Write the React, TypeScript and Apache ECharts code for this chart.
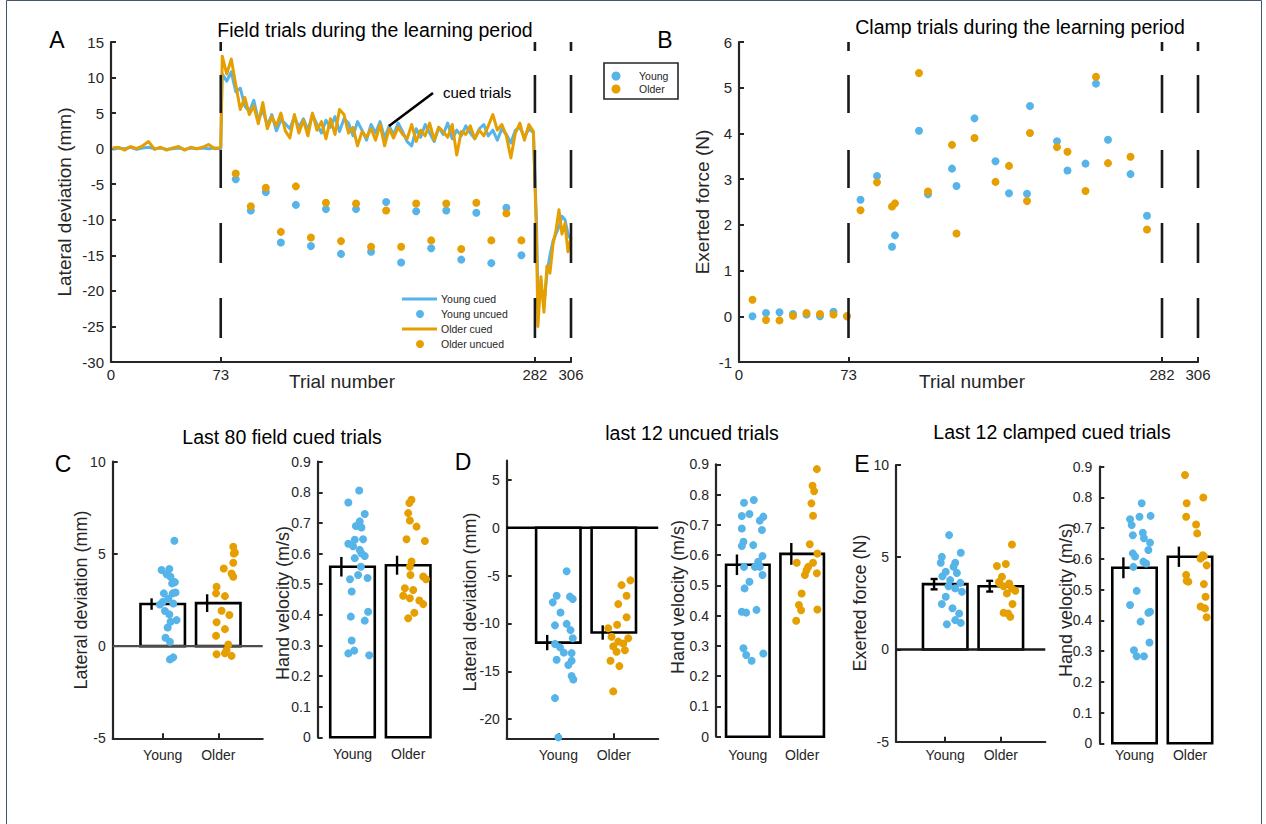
import React, { useEffect, useRef } from "react";
import * as echarts from "echarts";

// ---------------- Panel A : field trials ----------------
const cuedTrials = [
  1, 5, 9, 13, 17, 21, 25, 29, 33, 37, 41, 45, 49, 53, 57, 61, 65, 69, 73,
  74, 77, 80, 83, 86, 89, 92, 95, 98, 101, 104, 107, 110, 113, 116, 119, 122, 125, 128, 131,
  134, 137, 140, 143, 146, 149, 152, 155, 158, 161, 164, 167, 170, 173, 176, 179, 182, 185, 188, 191,
  194, 197, 200, 203, 206, 209, 212, 215, 218, 221, 224, 227, 230, 233, 236, 239, 242, 245, 248, 251,
  254, 257, 260, 263, 266, 269, 272, 275, 278, 281,
  283, 284, 286, 288, 290, 292, 294, 296, 298, 300, 302, 304, 306,
];
const youngCued = [
  -0.1, 0.1, 0.0, 0.2, -0.1, 0.1, 0.2, 0.0, 0.1, -0.1, 0.0, 0.1, -0.1, 0.1, 0.0, 0.1, 0.0, 0.1, 0.0,
  10.5, 9.5, 10.8, 8.0, 8.5, 6.0, 5.2, 6.8, 4.0, 5.5, 3.2, 4.8, 2.5, 4.0, 3.5, 2.8, 4.5, 3.0, 4.2, 2.6,
  4.8, 3.4, 2.2, 4.0, 3.0, 4.5, 2.4, 4.2, 3.6, 1.8, 3.8, 2.6, 1.2, 3.4, 2.2, 3.8, 1.5, 3.2, 2.0, 3.6,
  2.4, 1.0, 0.4, 2.8, 1.6, 3.4, 2.2, 1.0, 3.0, 2.0, 3.6, 1.4, 2.6, 1.8, 3.2, 2.2, 1.4, 2.8, 3.4, 1.8,
  2.6, 1.2, 2.8, 2.0, 0.8, 2.6, 3.0, 1.6, 2.8, 2.2,
  -10, -21, -19, -22, -17.5, -15, -13, -12, -11, -9.5, -10, -12, -12.8,
];
const olderCued = [
  0.1, 0.2, -0.2, 0.3, 0.0, 0.4, 1.0, -0.1, 0.2, -0.2, 0.1, 0.3, -0.2, 0.2, 0.0, 0.2, 0.6, 0.0, 0.2,
  13.0, 10.5, 12.6, 9.0, 5.5, 7.2, 4.8, 6.0, 3.5, 6.5, 2.8, 4.5, 3.2, 5.0, 2.5, 1.5, 4.8, 2.2, 4.0, 1.8,
  5.0, 2.6, 3.8, 1.4, 4.2, 2.0, 5.5, 4.8, 2.2, 3.0, 0.4, 2.4, 1.6, 2.8, 1.2, 3.4, 0.4, 2.8, 1.5, 3.0,
  2.0, 1.4, 3.4, 1.0, 2.6, 1.8, 3.6, 1.2, 3.0, 2.4, 1.6, 3.4, -0.9, 2.4, 2.0, 3.2, 1.4, 2.6, 1.8, 3.2,
  4.8, 2.6, 3.4, 1.8, -1.3, 2.2, 3.6, 1.2, 3.4, 2.4,
  -12, -25, -18, -23, -16.5, -17.5, -13.5, -11.5, -8.6, -12, -10.5, -14.5, -12.5,
];
const uncuedTrials = [83, 93, 103, 113, 123, 133, 143, 153, 163, 173, 183, 193, 203, 213, 223, 233, 243, 253, 263, 273];
const youngUncued = [-4.3, -8.7, -6.1, -13.2, -7.9, -13.7, -8.5, -14.8, -8.5, -14.5, -7.5, -16.0, -8.8, -14.0, -8.7, -15.6, -9.0, -16.1, -8.3, -15.0];
const olderUncued = [-3.5, -8.1, -5.5, -11.7, -5.3, -12.5, -7.6, -13.0, -7.7, -13.8, -8.7, -13.8, -7.7, -12.9, -7.7, -14.1, -7.6, -12.9, -9.1, -12.9];
const trialTicks = [0, 73, 282, 306];
const phaseBounds = [73, 282, 306];

// ---------------- Panel B : clamp trials ----------------
const clampTrials = [9, 18, 27, 36, 45, 54, 63, 72, 81, 92, 102, 104, 120, 126, 142, 145, 157, 171, 180, 192, 194, 212, 219, 231, 238, 246, 261, 272];
const youngClamp = [0.0, 0.07, 0.09, 0.05, 0.04, 0.0, 0.1, 0.0, 2.55, 3.07, 1.52, 1.77, 4.06, 2.67, 3.23, 2.85, 4.33, 3.39, 2.69, 2.68, 4.6, 3.83, 3.19, 3.34, 5.09, 3.86, 3.11, 2.2];
const olderClamp = [0.36, -0.08, -0.09, 0.01, 0.07, 0.05, 0.04, 0.0, 2.32, 2.93, 2.4, 2.47, 5.32, 2.73, 3.75, 1.81, 3.9, 2.94, 3.29, 2.52, 4.01, 3.7, 3.6, 2.74, 5.24, 3.35, 3.49, 1.9];

// ---------------- Bottom panels ----------------
const groups = ["Young", "Older"];
const groupPos = [1, 2];

const cDevMean = [2.28, 2.33];
const cDevSem = [0.31, 0.48];
const cDevYoungX = [1.21, 0.98, 1.12, 1.07, 1.14, 1.22, 1.02, 1.18, 1.23, 1.1, 1.19, 0.95, 1.04, 1.12, 1.25, 1.14, 1.09, 1.05, 1.13, 1.19, 1.13, 1.0, 1.17];
const cDevYoungY = [5.71, 4.13, 4.18, 3.9, 3.76, 3.47, 2.86, 2.86, 2.91, 2.58, 2.31, 2.26, 1.9, 1.72, 1.41, 1.32, 1.01, 0.45, 0.23, -0.61, -0.72, 2.4, 3.4];
const cDevOlderX = [2.27, 2.3, 2.28, 2.1, 2.27, 2.24, 2.27, 1.97, 1.96, 2.12, 2.06, 2.2, 1.97, 2.12, 1.96, 2.18, 1.97, 2.12, 2.24, 2.15];
const cDevOlderY = [5.39, 5.08, 5.02, 4.21, 4.52, 3.94, 3.76, 3.22, 2.86, 2.71, 1.92, 1.69, 1.29, 0.92, 0.56, 0.09, -0.44, -0.39, -0.53, -0.22];

const cVelMean = [0.557, 0.562];
const cVelSem = [0.032, 0.031];
const cVelYoungX = [1.12, 0.925, 1.22, 1.13, 1.06, 1.16, 1.04, 1.19, 0.925, 1.01, 1.13, 1.22, 1.04, 1.15, 1.1, 0.955, 1.27, 0.985, 1.28, 0.97, 1.22, 0.985, 1.03, 0.925, 1.3, 1.16];
const cVelYoungY = [0.806, 0.767, 0.729, 0.705, 0.69, 0.685, 0.645, 0.647, 0.632, 0.624, 0.612, 0.592, 0.585, 0.557, 0.53, 0.516, 0.52, 0.476, 0.41, 0.394, 0.381, 0.316, 0.283, 0.274, 0.268, 0.601];
const cVelOlderX = [2.06, 2.02, 2.0, 2.03, 2.15, 1.97, 2.3, 2.06, 2.03, 2.04, 2.27, 2.32, 1.94, 2.09, 1.91, 2.03, 2.27, 2.11, 2.0, 2.2];
const cVelOlderY = [0.776, 0.765, 0.732, 0.708, 0.688, 0.647, 0.641, 0.574, 0.557, 0.53, 0.525, 0.516, 0.487, 0.481, 0.462, 0.454, 0.435, 0.407, 0.389, 0.447];

const dDevMean = [-12.0, -10.95];
const dDevSem = [0.8, 0.75];
const dDevYoungX = [1.15, 0.97, 0.9, 1.21, 1.26, 1.04, 0.94, 1.15, 1.22, 1.26, 0.94, 1.03, 1.1, 1.24, 0.97, 1.24, 1.18, 1.24, 1.27, 0.94, 1.0];
const dDevYoungY = [-4.55, -7.1, -7.8, -7.2, -7.45, -8.85, -10.2, -10.05, -10.7, -11.55, -12.14, -12.5, -13.05, -13.1, -13.8, -13.9, -14.35, -15.5, -15.85, -17.8, -21.9];
const dDevOlderX = [2.3, 2.14, 2.23, 2.08, 2.23, 2.06, 1.9, 1.96, 2.26, 2.08, 2.17, 1.99, 2.2, 2.05, 1.94, 2.1, 1.99];
const dDevOlderY = [-5.5, -6.0, -7.1, -7.98, -9.35, -10.14, -10.5, -11.4, -11.55, -11.9, -12.1, -12.4, -12.8, -12.95, -13.9, -14.46, -17.1];

const dVelMean = [0.568, 0.604];
const dVelSem = [0.034, 0.036];
const dVelYoungX = [1.11, 0.93, 1.03, 0.89, 1.285, 1.22, 0.89, 1.26, 0.92, 0.89, 1.1, 1.27, 1.19, 1.13, 0.93, 1.27, 1.03, 0.94, 0.89, 0.97, 1.16, 0.92, 0.97, 1.07, 1.285, 1.22];
const dVelYoungY = [0.782, 0.773, 0.736, 0.729, 0.727, 0.714, 0.688, 0.683, 0.644, 0.63, 0.633, 0.597, 0.578, 0.561, 0.561, 0.534, 0.512, 0.49, 0.413, 0.41, 0.419, 0.292, 0.27, 0.251, 0.275, 0.561];
const dVelOlderX = [2.27, 2.19, 2.22, 2.17, 2.2, 2.14, 2.28, 1.9, 2.2, 2.11, 2.05, 2.27, 1.99, 1.94, 1.98, 2.28, 1.89, 2.08];
const dVelOlderY = [0.884, 0.829, 0.811, 0.771, 0.73, 0.636, 0.605, 0.575, 0.575, 0.561, 0.534, 0.54, 0.473, 0.435, 0.418, 0.42, 0.383, 0.55];

const eForceMean = [3.54, 3.43];
const eForceSem = [0.28, 0.29];
const eForceYoungX = [1.07, 1.28, 0.94, 0.92, 1.18, 1.15, 1.01, 1.21, 0.95, 1.09, 1.27, 1.06, 1.18, 1.3, 1.01, 0.94, 1.13, 1.25, 1.18, 1.28, 1.03];
const eForceYoungY = [6.2, 5.24, 5.02, 4.7, 4.7, 4.48, 4.21, 4.15, 3.97, 3.76, 3.61, 3.43, 3.31, 3.13, 2.86, 2.46, 2.23, 1.95, 1.59, 1.44, 1.37];
const eForceOlderX = [2.2, 1.93, 2.09, 2.02, 1.97, 2.15, 2.05, 2.2, 2.26, 2.11, 2.21, 2.05, 2.13, 2.17, 1.97];
const eForceOlderY = [5.69, 4.52, 4.63, 3.94, 3.67, 3.58, 3.43, 3.31, 3.18, 3.04, 2.46, 1.99, 1.95, 1.77, 3.6];

const eVelMean = [0.571, 0.607];
const eVelSem = [0.034, 0.033];
const eVelYoungX = [1.13, 1.09, 1.29, 0.92, 0.95, 0.97, 1.15, 1.17, 1.28, 1.25, 0.97, 1.01, 1.16, 1.21, 0.98, 1.04, 0.92, 1.28, 1.25, 1.11, 1.27, 0.99, 1.04, 1.17];
const eVelYoungY = [0.781, 0.737, 0.74, 0.729, 0.71, 0.677, 0.685, 0.667, 0.653, 0.629, 0.618, 0.608, 0.591, 0.585, 0.574, 0.496, 0.45, 0.428, 0.425, 0.396, 0.328, 0.303, 0.283, 0.283];
const eVelOlderX = [1.91, 1.94, 2.24, 1.93, 2.11, 2.13, 2.25, 2.19, 2.3, 1.93, 1.97, 1.94, 2.25, 2.28, 2.19, 2.27, 2.3, 2.23];
const eVelOlderY = [0.873, 0.781, 0.8, 0.737, 0.712, 0.683, 0.609, 0.601, 0.579, 0.548, 0.526, 0.529, 0.518, 0.477, 0.445, 0.439, 0.41, 0.612];

const velTicks = [0, 0.1, 0.2, 0.3, 0.4, 0.5, 0.6, 0.7, 0.8, 0.9];
const dDevTicks = [-20, -15, -10, -5, 0, 5];

// ---------------- styling ----------------
const BLUE = "#56B4E9";
const ORANGE = "#E69F00";
const AX = "#262626";
const FONT = "'Liberation Sans', Arial, Helvetica, sans-serif";
const DASH = [9, 24, 38, 37, 38, 35, 40, 35, 40, 30];
const TITLE = 19.5;

const zip = (xs: number[], ys: number[]) => xs.map((x, i) => [x, ys[i]]);

function yAxisCfg(gi: number, min: number, max: number, o: any = {}) {
  const label: any = { color: AX, fontSize: o.fs || 14, fontFamily: FONT, margin: 7 };
  const tick: any = { show: true, inside: true, length: 5, lineStyle: { color: AX, width: 2 } };
  if (o.ticks) {
    label.customValues = o.ticks;
    tick.customValues = o.ticks;
  }
  if (o.fmt) label.formatter = o.fmt;
  const a: any = {
    type: "value", gridIndex: gi, min, max,
    axisLine: { show: true, onZero: false, lineStyle: { color: AX, width: 2.2 } },
    axisTick: tick, axisLabel: label, splitLine: { show: false },
  };
  if (o.interval) a.interval = o.interval;
  return a;
}

function xAxisCfg(gi: number, min: number, max: number, o: any = {}) {
  const ticks = o.ticks || groupPos;
  return {
    type: "value", gridIndex: gi, min, max,
    axisLine: { show: o.line !== false, onZero: false, lineStyle: { color: AX, width: 2.2 } },
    axisTick: { show: o.line !== false, inside: true, length: 5, customValues: ticks, lineStyle: { color: AX, width: 2 } },
    axisLabel: {
      color: AX, fontSize: o.fs || 14, fontFamily: FONT, margin: o.margin || 8,
      customValues: ticks,
      formatter: o.fmt || ((v: number) => groups[Math.round(v) - 1] || ""),
    },
    splitLine: { show: false },
  };
}

const velFmt = (v: number) => (Math.abs(v) < 1e-9 ? "0" : v.toFixed(1));

function barPanel(gi: number, means: number[], sems: number[], yx: number[], yy: number[], ox: number[], oy: number[], o: any = {}) {
  const s: any[] = [];
  s.push({
    type: "custom", xAxisIndex: gi, yAxisIndex: gi, z: 2, silent: true,
    data: groupPos.map((x, i) => [x, means[i]]),
    renderItem: (_p: any, api: any) => {
      const x = api.value(0), v = api.value(1);
      const a = api.coord([x - 0.4, 0]);
      const b = api.coord([x + 0.4, v]);
      return {
        type: "rect",
        shape: { x: a[0], y: Math.min(a[1], b[1]), width: b[0] - a[0], height: Math.abs(b[1] - a[1]) },
        style: { fill: "#ffffff", stroke: "#000000", lineWidth: 2.6 },
      };
    },
  });
  if (o.zero) {
    s.push({
      type: "line", xAxisIndex: gi, yAxisIndex: gi, z: 3, symbol: "none", silent: true,
      data: [[o.xmin, 0], [o.xmax, 0]],
      lineStyle: { color: o.zero, width: 2.4 },
    });
  }
  s.push({
    type: "custom", xAxisIndex: gi, yAxisIndex: gi, z: 4, silent: true,
    data: groupPos.map((x, i) => [x, means[i], sems[i]]),
    renderItem: (_p: any, api: any) => {
      const x = api.value(0) - 0.2, m = api.value(1), se = api.value(2);
      const t = api.coord([x, m + se]);
      const b = api.coord([x, m - se]);
      const st = { stroke: "#000000", lineWidth: 2.4 };
      const ch: any[] = [{ type: "line", shape: { x1: t[0], y1: t[1], x2: b[0], y2: b[1] }, style: st }];
      if (o.caps) {
        ch.push({ type: "line", shape: { x1: t[0] - 3.5, y1: t[1], x2: t[0] + 3.5, y2: t[1] }, style: st });
        ch.push({ type: "line", shape: { x1: b[0] - 3.5, y1: b[1], x2: b[0] + 3.5, y2: b[1] }, style: st });
      }
      return { type: "group", children: ch };
    },
  });
  s.push({
    type: "scatter", xAxisIndex: gi, yAxisIndex: gi, z: 5, symbolSize: 8, silent: true,
    data: zip(yx, yy), itemStyle: { color: BLUE, opacity: 1 },
  });
  s.push({
    type: "scatter", xAxisIndex: gi, yAxisIndex: gi, z: 5, symbolSize: 8, silent: true,
    data: zip(ox, oy), itemStyle: { color: ORANGE, opacity: 1 },
  });
  return s;
}

function txt(text: string, x: number, y: number, size: number, o: any = {}) {
  return {
    type: "text", x, y, rotation: o.rot || 0, silent: true, z: 100,
    style: {
      text, font: `${size}px ${FONT}`, fill: o.color || "#000000",
      textAlign: o.align || "center", align: o.align || "center",
      textVerticalAlign: "middle", verticalAlign: "middle",
    },
  };
}

function buildOption() {
  const grid = [
    { left: 111, top: 42, width: 460, height: 320 },
    { left: 739, top: 42, width: 459, height: 320 },
    { left: 112.7, top: 461.7, width: 150, height: 276.6 },
    { left: 317.7, top: 461.7, width: 123.9, height: 275.6 },
    { left: 506.7, top: 460.7, width: 151.5, height: 277.6 },
    { left: 716, top: 464.3, width: 118.8, height: 272.4 },
    { left: 896, top: 465, width: 149.3, height: 276.7 },
    { left: 1099.3, top: 466.7, width: 124, height: 276.6 },
  ];
  const trialFmt = (v: number) => String(Math.round(v));
  const xAxis = [
    xAxisCfg(0, 0, 306, { ticks: trialTicks, fmt: trialFmt, fs: 15, margin: 5 }),
    xAxisCfg(1, 0, 306, { ticks: trialTicks, fmt: trialFmt, fs: 15, margin: 5 }),
    xAxisCfg(2, 0.1, 2.8, { margin: 10 }),
    xAxisCfg(3, 0.375, 2.6, { line: false, margin: 10 }),
    xAxisCfg(4, 0.07, 2.8, { margin: 10 }),
    xAxisCfg(5, 0.415, 2.6, { line: false, margin: 11 }),
    xAxisCfg(6, 0.115, 2.8, { margin: 6 }),
    xAxisCfg(7, 0.366, 2.6, { line: false, margin: 5 }),
  ];
  const yAxis = [
    yAxisCfg(0, -30, 15, { interval: 5, fs: 15 }),
    yAxisCfg(1, -1, 6, { interval: 1, fs: 15 }),
    yAxisCfg(2, -5, 10, { interval: 5 }),
    yAxisCfg(3, 0, 0.9, { ticks: velTicks, fmt: velFmt }),
    yAxisCfg(4, -22, 7, { ticks: dDevTicks }),
    yAxisCfg(5, 0, 0.9, { ticks: velTicks, fmt: velFmt }),
    yAxisCfg(6, -5, 10, { interval: 5 }),
    yAxisCfg(7, 0, 0.9, { ticks: velTicks, fmt: velFmt }),
  ];

  const series: any[] = [
    {
      type: "line", xAxisIndex: 0, yAxisIndex: 0, z: 2, symbol: "none", silent: true,
      data: zip(cuedTrials, youngCued), lineStyle: { color: BLUE, width: 3, join: "round" },
    },
    {
      type: "line", xAxisIndex: 0, yAxisIndex: 0, z: 3, symbol: "none", silent: true,
      data: zip(cuedTrials, olderCued), lineStyle: { color: ORANGE, width: 3, join: "round" },
    },
    {
      type: "scatter", xAxisIndex: 0, yAxisIndex: 0, z: 3, symbolSize: 8, silent: true,
      data: zip(uncuedTrials, youngUncued), itemStyle: { color: BLUE, opacity: 1 },
    },
    {
      type: "scatter", xAxisIndex: 0, yAxisIndex: 0, z: 3, symbolSize: 8, silent: true,
      data: zip(uncuedTrials, olderUncued), itemStyle: { color: ORANGE, opacity: 1 },
    },
    {
      type: "scatter", xAxisIndex: 1, yAxisIndex: 1, z: 3, symbolSize: 8, silent: true,
      data: zip(clampTrials, youngClamp), itemStyle: { color: BLUE, opacity: 1 },
    },
    {
      type: "scatter", xAxisIndex: 1, yAxisIndex: 1, z: 4, symbolSize: 8, silent: true,
      data: zip(clampTrials, olderClamp), itemStyle: { color: ORANGE, opacity: 1 },
    },
  ];
  const ranges = [[-30, 15], [-1, 6]];
  [0, 1].forEach((gi) => {
    phaseBounds.forEach((b) => {
      series.push({
        type: "line", xAxisIndex: gi, yAxisIndex: gi, z: 6, symbol: "none", silent: true, clip: false,
        data: [[b, ranges[gi][1]], [b, ranges[gi][0]]],
        lineStyle: { color: "#1a1a1a", width: 2.6, type: DASH, cap: "butt" },
      });
    });
  });

  series.push(...barPanel(2, cDevMean, cDevSem, cDevYoungX, cDevYoungY, cDevOlderX, cDevOlderY, { zero: "#4d4d4d", xmin: 0.1, xmax: 2.8 }));
  series.push(...barPanel(3, cVelMean, cVelSem, cVelYoungX, cVelYoungY, cVelOlderX, cVelOlderY));
  series.push(...barPanel(4, dDevMean, dDevSem, dDevYoungX, dDevYoungY, dDevOlderX, dDevOlderY, { zero: "#000000", xmin: 0.07, xmax: 2.8 }));
  series.push(...barPanel(5, dVelMean, dVelSem, dVelYoungX, dVelYoungY, dVelOlderX, dVelOlderY));
  series.push(...barPanel(6, eForceMean, eForceSem, eForceYoungX, eForceYoungY, eForceOlderX, eForceOlderY, { zero: "#1a1a1a", xmin: 0.115, xmax: 2.8, caps: true }));
  series.push(...barPanel(7, eVelMean, eVelSem, eVelYoungX, eVelYoungY, eVelOlderX, eVelOlderY));

  const R = Math.PI / 2;
  const graphic: any[] = [
    { type: "rect", silent: true, z: 0, shape: { x: 6.5, y: 0.5, width: 1255, height: 830 }, style: { fill: "none", stroke: "#44546a", lineWidth: 1 } },
    // panel letters
    txt("A", 57, 40, 23), txt("B", 665, 40, 23), txt("C", 63, 464, 23), txt("D", 463, 462, 23), txt("E", 862, 464, 23),
    // titles
    txt("Field trials during the learning period", 375, 30, TITLE),
    txt("Clamp trials during the learning period", 1020, 27, TITLE),
    txt("Last 80 field cued trials", 282, 437, TITLE),
    txt("last 12 uncued trials", 692, 433, TITLE),
    txt("Last 12 clamped cued trials", 1052, 432, TITLE),
    // axis names
    txt("Lateral deviation (mm)", 64, 202, 19, { rot: R, color: AX }),
    txt("Trial number", 342, 381, 19, { color: AX }),
    txt("Exerted force (N)", 702, 202, 19, { rot: R, color: AX }),
    txt("Trial number", 972, 381, 19, { color: AX }),
    txt("Lateral deviation (mm)", 81, 600, 18, { rot: R, color: AX }),
    txt("Hand velocity (m/s)", 283, 603, 18, { rot: R, color: AX }),
    txt("Lateral deviation (mm)", 470, 602, 18, { rot: R, color: AX }),
    txt("Hand velocity (m/s)", 678, 597, 18, { rot: R, color: AX }),
    txt("Exerted force (N)", 860, 603, 18, { rot: R, color: AX }),
    txt("Hand velocity (m/s)", 1066, 600, 18, { rot: R, color: AX }),
    // annotation
    { type: "line", silent: true, z: 100, shape: { x1: 433, y1: 93, x2: 389, y2: 126 }, style: { stroke: "#000000", lineWidth: 2.6 } },
    txt("cued trials", 443, 92, 15, { align: "left" }),
    // legend A
    { type: "line", silent: true, z: 100, shape: { x1: 402, y1: 299, x2: 437, y2: 299 }, style: { stroke: BLUE, lineWidth: 3 } },
    { type: "circle", silent: true, z: 100, shape: { cx: 420, cy: 314, r: 4 }, style: { fill: BLUE } },
    { type: "line", silent: true, z: 100, shape: { x1: 402, y1: 329, x2: 437, y2: 329 }, style: { stroke: ORANGE, lineWidth: 3 } },
    { type: "circle", silent: true, z: 100, shape: { cx: 420, cy: 344, r: 4 }, style: { fill: ORANGE } },
    txt("Young cued", 441, 299, 10.5, { align: "left", color: AX }),
    txt("Young uncued", 441, 314, 10.5, { align: "left", color: AX }),
    txt("Older cued", 441, 329, 10.5, { align: "left", color: AX }),
    txt("Older uncued", 441, 344, 10.5, { align: "left", color: AX }),
    // legend B
    { type: "rect", silent: true, z: 100, shape: { x: 604, y: 63, width: 74, height: 36 }, style: { fill: "#ffffff", stroke: AX, lineWidth: 1.6 } },
    { type: "circle", silent: true, z: 101, shape: { cx: 616, cy: 76, r: 4.5 }, style: { fill: BLUE } },
    { type: "circle", silent: true, z: 101, shape: { cx: 616, cy: 89, r: 4.5 }, style: { fill: ORANGE } },
    txt("Young", 639, 76, 10.5, { align: "left", color: AX }),
    txt("Older", 639, 89, 10.5, { align: "left", color: AX }),
  ];

  return { animation: false, backgroundColor: "#ffffff", grid, xAxis, yAxis, series, graphic };
}

export default function App() {
  const ref = useRef<HTMLDivElement>(null);
  useEffect(() => {
    if (!ref.current) return;
    const chart = echarts.init(ref.current, undefined, { renderer: "svg" });
    chart.setOption(buildOption() as any);
    return () => chart.dispose();
  }, []);
  return (
    <div
      ref={ref}
      style={{ position: "fixed", left: 0, top: 0, width: 1266, height: 824, background: "#ffffff" }}
    />
  );
}
